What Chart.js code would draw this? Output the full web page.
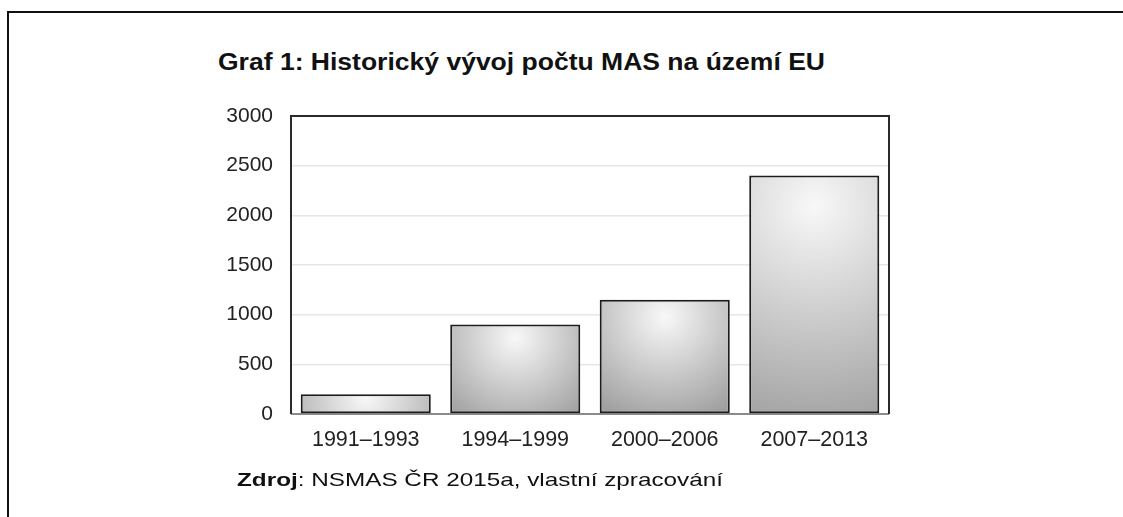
<!DOCTYPE html>
<html>
<head>
<meta charset="utf-8">
<script src="https://cdn.jsdelivr.net/npm/chart.js@4"></script>
<style>
  body { margin: 0; background: #fff; font-family: "Liberation Sans", Arial, sans-serif; }
  .wrap { position: relative; width: 1123px; height: 517px; overflow: hidden; }
  .frame { position: absolute; left: 7px; top: 11px; width: 1200px; height: 600px;
           border-top: 2px solid #111; border-left: 2px solid #111; }
  .title { position: absolute; left: 218px; top: 51px; font-size: 23px; line-height: 1; font-weight: bold;
           color: #111; white-space: nowrap; transform-origin: 0 0; }
  .source { position: absolute; left: 237px; top: 471px; font-size: 18.5px; line-height: 1;
            color: #111; white-space: nowrap; transform-origin: 0 0; }
  canvas { position: absolute; left: 0; top: 0; }
</style>
</head>
<body>
<div class="wrap">
  <div class="frame"></div>
  <div class="title" id="title">Graf 1: Historický vývoj počtu MAS na území EU</div>
  <canvas id="masChart" width="1123" height="517"></canvas>
  <div class="source" id="source"><b>Zdroj</b>: NSMAS ČR 2015a, vlastní zpracování</div>
</div>
<script>
const periods = ["1991–1993", "1994–1999", "2000–2006", "2007–2013"];
const masCount = [200, 900, 1150, 2400];
const yTicks = [0, 500, 1000, 1500, 2000, 2500, 3000];

// the captions in the original are a bit wider than Arial, stretch them to fit
function stretchTo(id, width) {
  const el = document.getElementById(id);
  const w = el.getBoundingClientRect().width;
  if (w > 0) el.style.transform = `scaleX(${width / w})`;
}
stretchTo("title", 607);
stretchTo("source", 486);

/* ===== bar fill: soft grey radial shading ===== */
function barFill(c) {
  const chart = c.chart;
  const xs = chart.scales.x;
  const ys = chart.scales.y;
  if (!xs || !ys || !chart.chartArea || c.type !== "data") return "#cccccc";
  const cx = xs.getPixelForValue(c.dataIndex);
  const top = ys.getPixelForValue(c.raw);
  const bottom = ys.getPixelForValue(0);
  const h = bottom - top;
  const w = xs.width / periods.length * 0.87;
  const cy = top + Math.min(h * 0.15, 30);
  const g = chart.ctx.createRadialGradient(cx, cy, 0, cx, cy, Math.max(w * 0.75, h * 0.95));
  g.addColorStop(0, "#f8f8f8");
  g.addColorStop(1, "#a0a0a0");
  return g;
}

/* ===== plot frame ===== */
const plotFrame = {
  id: "plotFrame",
  beforeDatasetsDraw(chart) {
    const { ctx, chartArea: a } = chart;
    ctx.save();
    ctx.lineWidth = 2;
    ctx.strokeStyle = "#8a8a8a";
    ctx.beginPath();
    ctx.moveTo(a.left, a.bottom);
    ctx.lineTo(a.right, a.bottom);
    ctx.stroke();
    ctx.strokeStyle = "#2a2a2a";
    ctx.beginPath();
    ctx.moveTo(a.left, a.bottom);
    ctx.lineTo(a.left, a.top);
    ctx.lineTo(a.right, a.top);
    ctx.lineTo(a.right, a.bottom);
    ctx.stroke();
    ctx.restore();
  }
};

new Chart(document.getElementById("masChart"), {
  type: "bar",
  data: {
    labels: periods,
    datasets: [{
      label: "Počet MAS",
      data: masCount,
      backgroundColor: barFill,
      borderColor: "#1c1c1c",
      borderWidth: 2,
      borderSkipped: false,
      barPercentage: 0.87,
      categoryPercentage: 1
    }]
  },
  options: {
    responsive: false,
    animation: false,
    layout: { padding: { left: 0, top: 116, right: 234, bottom: 53 } },
    plugins: {
      legend: { display: false },
      tooltip: { enabled: false }
    },
    scales: {
      x: {
        grid: { display: false, drawTicks: false },
        border: { display: false },
        ticks: {
          color: "#222",
          padding: 13,
          font: { family: "'Liberation Sans', Arial, sans-serif", size: 21.5 }
        },
        afterFit: (s) => { s.height = 50; }
      },
      y: {
        min: 0,
        max: 3000,
        afterBuildTicks: (s) => { s.ticks = yTicks.map(v => ({ value: v })); },
        grid: { color: "#e6e6e6", lineWidth: 1.5, drawTicks: false },
        border: { display: false },
        ticks: {
          color: "#222",
          padding: 18,
          callback: (v) => String(v),
          font: { family: "'Liberation Sans', Arial, sans-serif", size: 21 }
        },
        afterFit: (s) => { s.width = 291; }
      }
    }
  },
  plugins: [plotFrame]
});
</script>
</body>
</html>
